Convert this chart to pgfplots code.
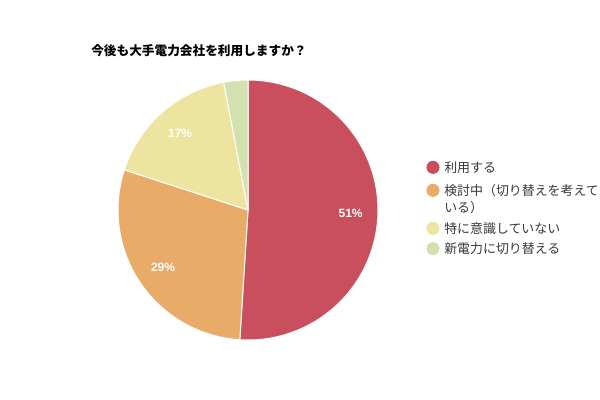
\documentclass[border=0pt]{standalone}
\usepackage{pgfplots}
\usepackage{pgfplotstable}
\pgfplotsset{compat=1.18}
\usepackage{fontspec}
\setmainfont{Liberation Sans}
\newfontfamily\jp{Noto Sans CJK JP}

\definecolor{cA}{HTML}{C94F5E}
\definecolor{cB}{HTML}{E8AB68}
\definecolor{cC}{HTML}{EDE59F}
\definecolor{cD}{HTML}{D3E1B0}

% share of answers, in %
\pgfplotstableread{
answer value
use 51
considering 29
indifferent 17
switch 3
}\piedata

\begin{document}
\begin{tikzpicture}[pct/.style={text=white, font=\bfseries\fontsize{9}{10}\selectfont, inner sep=0}]
\pgfplotstablegetelem{0}{value}\of\piedata \let\vA\pgfplotsretval
\pgfplotstablegetelem{1}{value}\of\piedata \let\vB\pgfplotsretval
\pgfplotstablegetelem{2}{value}\of\piedata \let\vC\pgfplotsretval
\pgfplotstablegetelem{3}{value}\of\piedata \let\vD\pgfplotsretval
% slice edges, clockwise from the top
\pgfmathsetmacro\aA{90}
\pgfmathsetmacro\aB{\aA-3.6*\vA}
\pgfmathsetmacro\aC{\aB-3.6*\vB}
\pgfmathsetmacro\aD{\aC-3.6*\vC}
\pgfmathsetmacro\aE{\aD-3.6*\vD}
\pgfmathsetmacro\mA{(\aA+\aB)/2}
\pgfmathsetmacro\mB{(\aB+\aC)/2}
\pgfmathsetmacro\mC{(\aC+\aD)/2}

\path[use as bounding box] (0,0) rectangle (450pt,300pt);

\node[anchor=base west, inner sep=0, font=\jp\bfseries\fontsize{9.5}{11}\selectfont]
  at (68.25pt,258pt) {今後も大手電力会社を利用しますか？};

\begin{axis}[
  at={(186pt,142.5pt)}, anchor=center,
  scale only axis, width=195pt, height=195pt,
  xmin=-1, xmax=1, ymin=-1, ymax=1,
  hide axis, clip=false,
  every axis plot/.append style={draw=white, line width=0.75pt, samples=120},
]
\addplot[fill=cA, domain=\aB:\aA] ({cos(x)},{sin(x)}) -- (axis cs:0,0) -- cycle;
\addplot[fill=cB, domain=\aC:\aB] ({cos(x)},{sin(x)}) -- (axis cs:0,0) -- cycle;
\addplot[fill=cC, domain=\aD:\aC] ({cos(x)},{sin(x)}) -- (axis cs:0,0) -- cycle;
\addplot[fill=cD, domain=\aE:\aD] ({cos(x)},{sin(x)}) -- (axis cs:0,0) -- cycle;

\node[pct] at (axis cs:{0.79*cos(\mA)},{0.79*sin(\mA)}) {\vA\%};
\node[pct] at (axis cs:{0.79*cos(\mB)},{0.79*sin(\mB)}) {\vB\%};
\node[pct] at (axis cs:{0.79*cos(\mC)},{0.79*sin(\mC)}) {\vC\%};
\end{axis}

% legend
\begin{scope}[font=\jp\fontsize{9.7}{11}\selectfont, every node/.style={anchor=west, inner sep=0, text=black!78}]
\fill[cA] (324.75pt,174.5pt) circle (4.9pt);
\node at (333pt,174.5pt) {利用する};
\fill[cB] (324.75pt,157.25pt) circle (4.9pt);
\node at (333pt,157.25pt) {検討中（切り替えを考えて};
\node at (333pt,144.5pt) {いる）};
\fill[cC] (324.75pt,128.75pt) circle (4.9pt);
\node at (333pt,128.75pt) {特に意識していない};
\fill[cD] (324.75pt,113.5pt) circle (4.9pt);
\node at (333pt,113.5pt) {新電力に切り替える};
\end{scope}
\end{tikzpicture}
\end{document}
